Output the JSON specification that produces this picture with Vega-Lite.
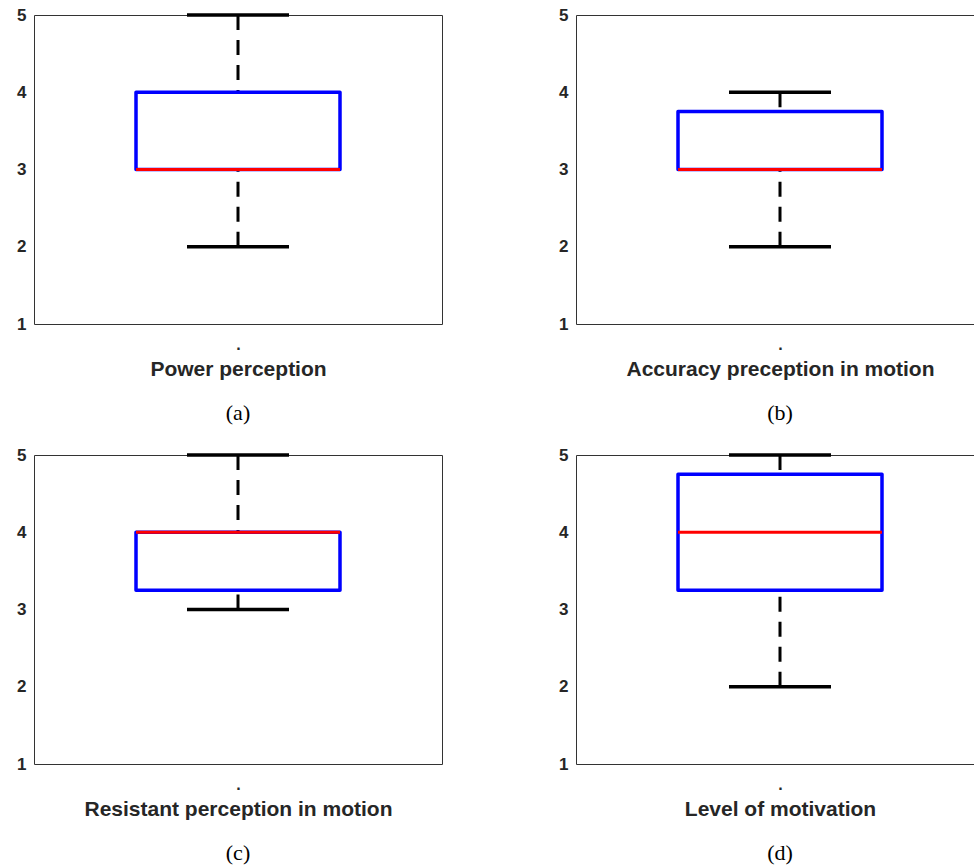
{
  "$schema": "https://vega.github.io/schema/vega-lite/v6.json",
  "background": "white",
  "padding": {"left": 16, "top": 5, "right": 0, "bottom": 0},
  "data": {"values": [
    {"panel": "a", "min": 2, "q1": 3, "median": 3, "q3": 4, "max": 5},
    {"panel": "b", "min": 2, "q1": 3, "median": 3, "q3": 3.75, "max": 4},
    {"panel": "c", "min": 3, "q1": 3.25, "median": 4, "q3": 4, "max": 5},
    {"panel": "d", "min": 2, "q1": 3.25, "median": 4, "q3": 4.75, "max": 5}
  ]},
  "columns": 2,
  "spacing": {"row": 20, "column": 115},
  "config": {
    "view": {"stroke": "#333333", "strokeWidth": 1},
    "axis": {"grid": false, "domain": false, "labelFont": "Liberation Sans", "labelFontWeight": "bold", "labelColor": "#262626", "tickColor": "#777777", "tickWidth": 1},
    "axisY": {"labelFontSize": 17, "ticks": false, "labelPadding": 8, "labelBaseline": "middle"},
    "axisX": {"labelFontSize": 16, "ticks": false, "labelPadding": 12, "titleFont": "Liberation Sans", "titleFontWeight": "bold", "titleFontSize": 21, "titleColor": "#262626", "titlePadding": 6},
    "title": {"orient": "bottom", "font": "Liberation Serif", "fontSize": 22, "fontWeight": "normal", "color": "#000000", "offset": 24}
  },
  "concat": [
    {
      "width": 408, "height": 309,
      "title": {"text": "(a)"},
      "transform": [{"filter": "datum.panel == 'a'"}],
      "layer": [
        {"mark": {"type": "rule", "color": "black", "strokeWidth": 3, "strokeDash": [15, 10]},
         "encoding": {"x": {"datum": 2, "type": "quantitative", "scale": {"domain": [0, 4]}, "axis": {"values": [2], "labelExpr": "'.'", "title": "Power perception"}}, "y": {"field": "min", "type": "quantitative", "scale": {"domain": [1, 5]}, "axis": {"values": [1, 2, 3, 4, 5], "format": "d", "title": null}}, "y2": {"field": "q1"}}},
        {"mark": {"type": "rule", "color": "black", "strokeWidth": 3, "strokeDash": [15, 10]},
         "encoding": {"x": {"datum": 2, "type": "quantitative"}, "y": {"field": "max", "type": "quantitative"}, "y2": {"field": "q3"}}},
        {"mark": {"type": "rule", "color": "black", "strokeWidth": 3.5},
         "encoding": {"x": {"datum": 1.5, "type": "quantitative"}, "x2": {"datum": 2.5}, "y": {"field": "min", "type": "quantitative"}}},
        {"mark": {"type": "rule", "color": "black", "strokeWidth": 3.5},
         "encoding": {"x": {"datum": 1.5, "type": "quantitative"}, "x2": {"datum": 2.5}, "y": {"field": "max", "type": "quantitative"}}},
        {"mark": {"type": "rect", "fillOpacity": 0, "stroke": "#0000ff", "strokeWidth": 3.5, "strokeJoin": "round"},
         "encoding": {"x": {"datum": 1, "type": "quantitative"}, "x2": {"datum": 3}, "y": {"field": "q1", "type": "quantitative"}, "y2": {"field": "q3"}}},
        {"mark": {"type": "rule", "color": "#ff0000", "strokeWidth": 3},
         "encoding": {"x": {"datum": 1, "type": "quantitative"}, "x2": {"datum": 3}, "y": {"field": "median", "type": "quantitative"}}}
      ]
    },
    {
      "width": 408, "height": 309,
      "title": {"text": "(b)"},
      "transform": [{"filter": "datum.panel == 'b'"}],
      "layer": [
        {"mark": {"type": "rule", "color": "black", "strokeWidth": 3, "strokeDash": [15, 10]},
         "encoding": {"x": {"datum": 2, "type": "quantitative", "scale": {"domain": [0, 4]}, "axis": {"values": [2], "labelExpr": "'.'", "title": "Accuracy preception in motion"}}, "y": {"field": "min", "type": "quantitative", "scale": {"domain": [1, 5]}, "axis": {"values": [1, 2, 3, 4, 5], "format": "d", "title": null}}, "y2": {"field": "q1"}}},
        {"mark": {"type": "rule", "color": "black", "strokeWidth": 3, "strokeDash": [15, 10]},
         "encoding": {"x": {"datum": 2, "type": "quantitative"}, "y": {"field": "max", "type": "quantitative"}, "y2": {"field": "q3"}}},
        {"mark": {"type": "rule", "color": "black", "strokeWidth": 3.5},
         "encoding": {"x": {"datum": 1.5, "type": "quantitative"}, "x2": {"datum": 2.5}, "y": {"field": "min", "type": "quantitative"}}},
        {"mark": {"type": "rule", "color": "black", "strokeWidth": 3.5},
         "encoding": {"x": {"datum": 1.5, "type": "quantitative"}, "x2": {"datum": 2.5}, "y": {"field": "max", "type": "quantitative"}}},
        {"mark": {"type": "rect", "fillOpacity": 0, "stroke": "#0000ff", "strokeWidth": 3.5, "strokeJoin": "round"},
         "encoding": {"x": {"datum": 1, "type": "quantitative"}, "x2": {"datum": 3}, "y": {"field": "q1", "type": "quantitative"}, "y2": {"field": "q3"}}},
        {"mark": {"type": "rule", "color": "#ff0000", "strokeWidth": 3},
         "encoding": {"x": {"datum": 1, "type": "quantitative"}, "x2": {"datum": 3}, "y": {"field": "median", "type": "quantitative"}}}
      ]
    },
    {
      "width": 408, "height": 309,
      "title": {"text": "(c)"},
      "transform": [{"filter": "datum.panel == 'c'"}],
      "layer": [
        {"mark": {"type": "rule", "color": "black", "strokeWidth": 3, "strokeDash": [15, 10]},
         "encoding": {"x": {"datum": 2, "type": "quantitative", "scale": {"domain": [0, 4]}, "axis": {"values": [2], "labelExpr": "'.'", "title": "Resistant perception in motion"}}, "y": {"field": "min", "type": "quantitative", "scale": {"domain": [1, 5]}, "axis": {"values": [1, 2, 3, 4, 5], "format": "d", "title": null}}, "y2": {"field": "q1"}}},
        {"mark": {"type": "rule", "color": "black", "strokeWidth": 3, "strokeDash": [15, 10]},
         "encoding": {"x": {"datum": 2, "type": "quantitative"}, "y": {"field": "max", "type": "quantitative"}, "y2": {"field": "q3"}}},
        {"mark": {"type": "rule", "color": "black", "strokeWidth": 3.5},
         "encoding": {"x": {"datum": 1.5, "type": "quantitative"}, "x2": {"datum": 2.5}, "y": {"field": "min", "type": "quantitative"}}},
        {"mark": {"type": "rule", "color": "black", "strokeWidth": 3.5},
         "encoding": {"x": {"datum": 1.5, "type": "quantitative"}, "x2": {"datum": 2.5}, "y": {"field": "max", "type": "quantitative"}}},
        {"mark": {"type": "rect", "fillOpacity": 0, "stroke": "#0000ff", "strokeWidth": 3.5, "strokeJoin": "round"},
         "encoding": {"x": {"datum": 1, "type": "quantitative"}, "x2": {"datum": 3}, "y": {"field": "q1", "type": "quantitative"}, "y2": {"field": "q3"}}},
        {"mark": {"type": "rule", "color": "#ff0000", "strokeWidth": 3},
         "encoding": {"x": {"datum": 1, "type": "quantitative"}, "x2": {"datum": 3}, "y": {"field": "median", "type": "quantitative"}}}
      ]
    },
    {
      "width": 408, "height": 309,
      "title": {"text": "(d)"},
      "transform": [{"filter": "datum.panel == 'd'"}],
      "layer": [
        {"mark": {"type": "rule", "color": "black", "strokeWidth": 3, "strokeDash": [15, 10]},
         "encoding": {"x": {"datum": 2, "type": "quantitative", "scale": {"domain": [0, 4]}, "axis": {"values": [2], "labelExpr": "'.'", "title": "Level of motivation"}}, "y": {"field": "min", "type": "quantitative", "scale": {"domain": [1, 5]}, "axis": {"values": [1, 2, 3, 4, 5], "format": "d", "title": null}}, "y2": {"field": "q1"}}},
        {"mark": {"type": "rule", "color": "black", "strokeWidth": 3, "strokeDash": [15, 10]},
         "encoding": {"x": {"datum": 2, "type": "quantitative"}, "y": {"field": "max", "type": "quantitative"}, "y2": {"field": "q3"}}},
        {"mark": {"type": "rule", "color": "black", "strokeWidth": 3.5},
         "encoding": {"x": {"datum": 1.5, "type": "quantitative"}, "x2": {"datum": 2.5}, "y": {"field": "min", "type": "quantitative"}}},
        {"mark": {"type": "rule", "color": "black", "strokeWidth": 3.5},
         "encoding": {"x": {"datum": 1.5, "type": "quantitative"}, "x2": {"datum": 2.5}, "y": {"field": "max", "type": "quantitative"}}},
        {"mark": {"type": "rect", "fillOpacity": 0, "stroke": "#0000ff", "strokeWidth": 3.5, "strokeJoin": "round"},
         "encoding": {"x": {"datum": 1, "type": "quantitative"}, "x2": {"datum": 3}, "y": {"field": "q1", "type": "quantitative"}, "y2": {"field": "q3"}}},
        {"mark": {"type": "rule", "color": "#ff0000", "strokeWidth": 3},
         "encoding": {"x": {"datum": 1, "type": "quantitative"}, "x2": {"datum": 3}, "y": {"field": "median", "type": "quantitative"}}}
      ]
    }
  ]
}
